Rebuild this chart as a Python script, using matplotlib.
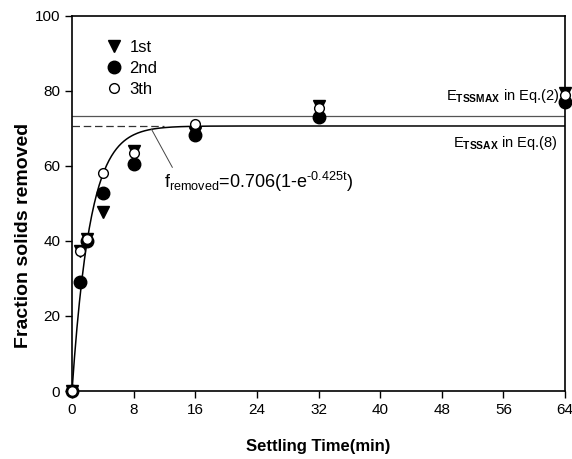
import numpy as np
import matplotlib
matplotlib.use("Agg")
import matplotlib.pyplot as plt

plt.rcParams['font.family'] = ['Liberation Sans', 'DejaVu Sans']
plt.rcParams['mathtext.fontset'] = 'custom'
plt.rcParams['mathtext.rm'] = 'Liberation Sans'
plt.rcParams['mathtext.it'] = 'Liberation Sans:italic'
plt.rcParams['mathtext.bf'] = 'Liberation Sans:bold'

# settling times (min) and fraction removed (%) for the three runs
time = [0, 1, 2, 4, 8, 16, 32, 64]
run1 = [0, 37.3, 40.5, 47.7, 63.9, 68.8, 76.0, 79.5]
run2 = [0, 29.0, 40.0, 52.7, 60.6, 68.3, 73.0, 77.0]
run3 = [0, 37.2, 40.6, 58.0, 63.4, 71.0, 75.5, 78.8]

# fitted model f = a(1 - exp(-k t))
fit_a = 0.706
fit_k = 0.425
e_tssmax = 73.2
e_tssax = 70.6

xticks = [0, 8, 16, 24, 32, 40, 48, 56, 64]
yticks = [0, 20, 40, 60, 80, 100]

fig = plt.figure(figsize=(5.72, 4.59), dpi=100)
ax = fig.add_axes([0.1259, 0.148, 0.8619, 0.818])

t = np.linspace(0, 64, 400)
ax.plot(t, 100 * fit_a * (1 - np.exp(-fit_k * t)), color='black', lw=1.1)
ax.plot([0, 64], [e_tssmax, e_tssmax], color='#555555', lw=0.9)
ax.plot([0, 12], [e_tssax, e_tssax], color='#333333', lw=0.9, dashes=(6, 3))

ax.plot(time, run1, 'v', color='black', ms=9, label='1st', clip_on=False, zorder=3)
ax.plot(time, run2, 'o', color='black', ms=9, label='2nd', clip_on=False, zorder=3)
ax.plot(time, run3, 'o', mfc='white', mec='black', mew=1.0, ms=7, label='3th',
        clip_on=False, zorder=4)

ax.annotate(r'f$_{\rm removed}$=0.706(1-e$^{\text{-0.425t}}$)', xy=(10.3, 69.8),
            xytext=(12.0, 54.0), fontsize=13,
            arrowprops=dict(arrowstyle='-', color='#444444', lw=0.7,
                            shrinkA=0, shrinkB=0, relpos=(0.05, 1.0)))
ax.text(48.6, 77.4, r'E$_{\bf TSSMAX}$ in Eq.(2)', fontsize=10.5)
ax.text(49.4, 64.9, r'E$_{\bf TSSAX}$ in Eq.(8)', fontsize=10.5)

ax.set_xlim(0, 64)
ax.set_ylim(0, 100)
ax.set_xticks(xticks)
ax.set_yticks(yticks)
ax.tick_params(direction='out', length=5, width=1, labelsize=11)
for s in ax.spines.values():
    s.set_linewidth(1.2)

ax.set_xlabel('Settling Time(min)', fontsize=12, fontweight='bold', labelpad=16)
ax.set_ylabel('Fraction solids removed', fontsize=14, fontweight='bold')
ax.yaxis.set_label_coords(-0.081, 0.415)

ax.legend(loc='upper left', bbox_to_anchor=(0.035, 0.975), frameon=False, fontsize=12,
          handletextpad=0.3, labelspacing=0.35, handlelength=1.2)

fig.savefig('out.png', dpi=100)
